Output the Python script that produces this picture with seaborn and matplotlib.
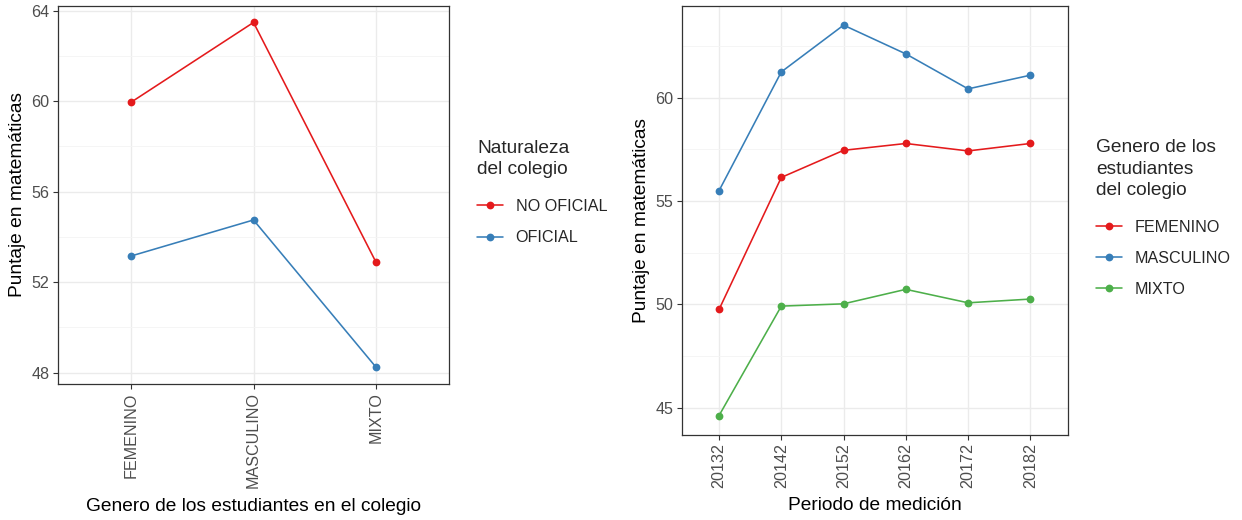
import matplotlib
matplotlib.use("Agg")
import matplotlib.pyplot as plt
from matplotlib.ticker import MultipleLocator
import seaborn as sns
import pandas as pd

# Left panel: score by student gender, split by school type
generos = ["FEMENINO", "MASCULINO", "MIXTO"]
no_oficial = [59.96, 63.48, 52.91]
oficial = [53.16, 54.75, 48.26]

# Right panel: score by period, split by student gender
periodos = ["20132", "20142", "20152", "20162", "20172", "20182"]
femenino = [49.76, 56.14, 57.45, 57.78, 57.42, 57.78]
masculino = [55.50, 61.24, 63.50, 62.11, 60.42, 61.08]
mixto = [44.63, 49.92, 50.03, 50.73, 50.08, 50.26]

RED, BLUE, GREEN = "#E41A1C", "#377EB8", "#4DAF4A"

sns.set_theme(style="white")
plt.rcParams["font.family"] = ["Liberation Sans", "DejaVu Sans"]

TICK_FS = 11.6
TITLE_FS = 13.8

df_left = pd.DataFrame({
    "genero": generos * 2,
    "puntaje": no_oficial + oficial,
    "naturaleza": ["NO OFICIAL"] * 3 + ["OFICIAL"] * 3,
})
df_right = pd.DataFrame({
    "periodo": periodos * 3,
    "puntaje": femenino + masculino + mixto,
    "genero": ["FEMENINO"] * 6 + ["MASCULINO"] * 6 + ["MIXTO"] * 6,
})

fig = plt.figure(figsize=(12.42, 5.2), dpi=100)
ax1 = fig.add_axes([58 / 1242, 1 - 384 / 520, (449 - 58) / 1242, (384 - 5.7) / 520])
ax2 = fig.add_axes([681.7 / 1242, 1 - 435 / 520, (1067.7 - 681.7) / 1242, (435 - 5.7) / 520])

line_kw = dict(marker="o", markersize=5.6, linewidth=1.15, markeredgewidth=0)

sns.lineplot(data=df_left, x="genero", y="puntaje", hue="naturaleza",
             palette=[RED, BLUE], ax=ax1, legend=True, **line_kw)
sns.lineplot(data=df_right, x="periodo", y="puntaje", hue="genero",
             palette=[RED, BLUE, GREEN], ax=ax2, legend=True, **line_kw)


def style_axes(ax, major, minor, ylim, ncat):
    ax.set_xlim(-0.6, ncat - 1 + 0.6)
    ax.set_ylim(*ylim)
    ax.yaxis.set_major_locator(MultipleLocator(major))
    ax.yaxis.set_minor_locator(MultipleLocator(minor))
    ax.set_axisbelow(True)
    ax.grid(True, which="major", axis="both", color="#EBEBEB", linewidth=1.0)
    ax.grid(True, which="minor", axis="y", color="#F4F4F4", linewidth=0.6)
    for s in ax.spines.values():
        s.set_color("#333333")
        s.set_linewidth(0.9)
    ax.tick_params(axis="both", which="major", direction="out", length=3.5,
                   width=0.8, color="#333333", labelcolor="#4D4D4D",
                   labelsize=TICK_FS, pad=2.5, bottom=True, left=True)
    ax.tick_params(axis="both", which="minor", length=0)
    ax.tick_params(axis="x", labelrotation=90)
    ax.set_ylabel("Puntaje en matemáticas", fontsize=TITLE_FS, color="black", labelpad=4)


style_axes(ax1, 4, 2, (47.5, 64.22), 3)
style_axes(ax2, 5, 2.5, (43.69, 64.44), 6)
ax1.set_xlabel("Genero de los estudiantes en el colegio", fontsize=TITLE_FS, color="black", labelpad=7)
ax2.set_xlabel("Periodo de medición", fontsize=TITLE_FS, color="black", labelpad=6)


def place_legend(ax, title, anchor):
    handles, labels = ax.get_legend_handles_labels()
    ax.get_legend().remove()
    leg = fig.legend(handles, labels, title=title, loc="upper left",
                     bbox_to_anchor=anchor, bbox_transform=fig.transFigure,
                     frameon=False, fontsize=TICK_FS, title_fontsize=TITLE_FS,
                     handlelength=1.6, handletextpad=0.8, labelspacing=1.0,
                     borderaxespad=0, borderpad=0)
    leg._legend_box.align = "left"
    leg._legend_box.sep = 15.0  # extra room between the title and the entries
    leg.get_title().set_linespacing(1.33)
    return leg


place_legend(ax1, "Naturaleza\ndel colegio", (477 / 1242, 1 - 140 / 520))
place_legend(ax2, "Genero de los\nestudiantes\ndel colegio", (1096 / 1242, 1 - 139.5 / 520))

fig.savefig("out.png", dpi=100)
